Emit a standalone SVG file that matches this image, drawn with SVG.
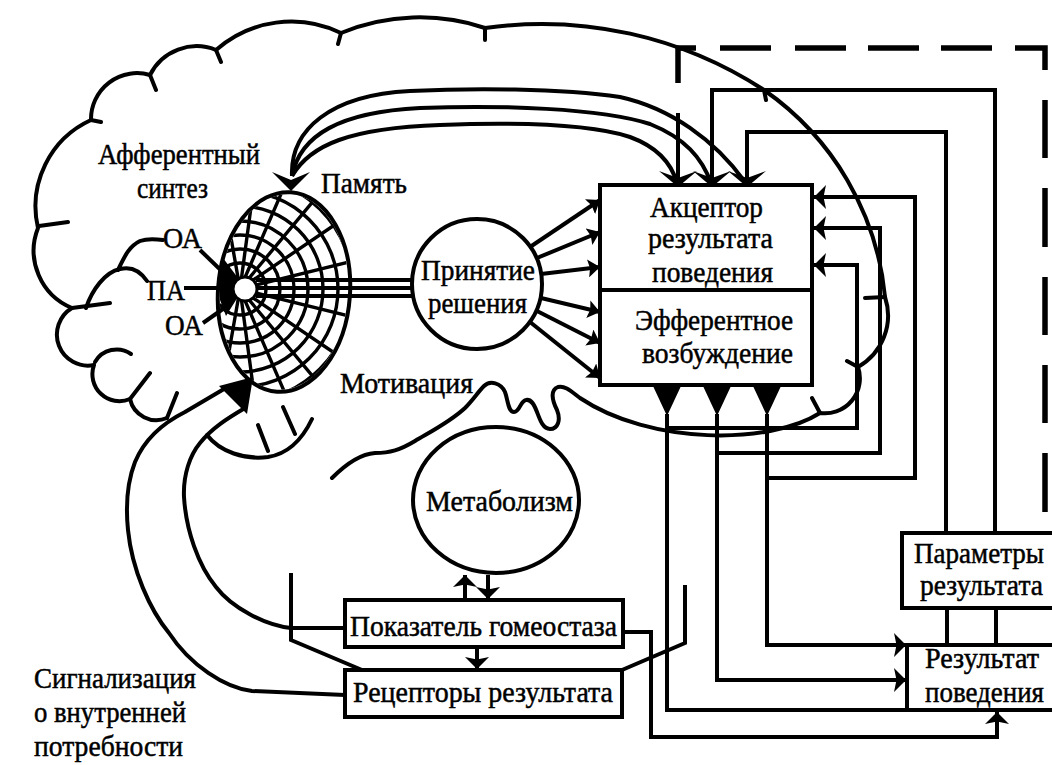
<svg xmlns="http://www.w3.org/2000/svg" width="1052" height="765" viewBox="0 0 1052 765">
<defs>
<style>
.t{font-family:'Liberation Serif',serif;font-size:29px;fill:#000;stroke:#000;stroke-width:0.5}
.ln{fill:none;stroke:#000;stroke-width:4;stroke-linecap:round;stroke-linejoin:round}
.cn{fill:none;stroke:#000;stroke-width:4;stroke-linejoin:miter;stroke-linecap:butt}
.dl{fill:none;stroke:#000;stroke-width:5.5}
.bx{fill:#fff;stroke:#000;stroke-width:4}
.op{fill:none;stroke:#000;stroke-width:4}
.hat{fill:none;stroke:#000;stroke-width:3.4}
.ah{fill:#000}
</style>
<marker id="a" viewBox="0 0 12 24" refX="12" refY="12" markerWidth="12" markerHeight="24" markerUnits="userSpaceOnUse" orient="auto"><path d="M12,12 L0,0 L2.5,12 L0,24 Z" fill="#000"/></marker>
<marker id="s" viewBox="0 0 12 18" refX="12" refY="9" markerWidth="12" markerHeight="18" markerUnits="userSpaceOnUse" orient="auto"><path d="M12,9 L0,0 L2,9 L0,18 Z" fill="#000"/></marker>
<marker id="m" viewBox="0 0 9 12" refX="9" refY="6" markerWidth="9" markerHeight="12" markerUnits="userSpaceOnUse" orient="auto"><path d="M9,6 L0,0 L0,12 Z" fill="#000"/></marker>
<clipPath id="ov"><ellipse cx="284" cy="292" rx="64" ry="98" transform="rotate(4 284 292)"/></clipPath>
</defs>
<rect width="1052" height="765" fill="#fff"/>

<g id="brain" class="ln">
<path d="M167,418 A27,27 0 0 1 130,399 A27,27 0 0 1 94,365 A31,31 0 0 1 72,308 A62,62 0 0 1 38,228 A95,95 0 0 1 91,120 A46,46 0 0 1 150,75 A52,52 0 0 1 216,50 A114,114 0 0 1 341,33 A206,206 0 0 1 485,28 A406,406 0 0 1 764,90 A285,285 0 0 1 885,297 A59,59 0 0 1 858,367 A35,35 0 0 1 820,413 C770,445 650,445 580,398 C572,392 565,385 558,387 C550,390 552,400 557,410 C561,420 558,429 550,429 C543,429 540,420 537,412 C534,404 531,399 526,400 C520,401 520,412 514,412 C508,412 508,400 505,392 C501,383 490,380 484,386 C478,392 473,400 465,408 C450,422 430,432 415,441 C400,450 390,453 375,453 C360,454 345,465 332,478"/>
<path d="M485,28 L485,40 M341,33 L338,44 M216,50 L221,62 M150,75 L156,90 M91,120 L101,122 M39,226 L68,222 M72,308 L110,303 M764,90 L766,100 M885,297 L865,298 M858,367 L847,361 M820,413 L812,398 M130,399 L150,373 M167,418 L177,393"/>
<path d="M95,362 A25,25 0 0 1 131,354"/>
<path d="M207,435 C220,452 245,460 268,457 C287,454 302,440 312,419 M258,425 L268,451 M283,407 L295,434"/>
<path d="M86,308 C92,290 105,272 120,269 C132,266 141,272 147,281 M118,270 C124,258 128,247 140,241 C148,238 156,239 163,240"/>
</g>

<g id="afferent-synthesis">
<g clip-path="url(#ov)" class="hat">
<circle cx="240" cy="289" r="26"/><circle cx="240" cy="289" r="40"/><circle cx="240" cy="289" r="54"/><circle cx="240" cy="289" r="68"/><circle cx="240" cy="289" r="83"/><circle cx="240" cy="289" r="98"/><circle cx="240" cy="289" r="113"/><circle cx="240" cy="289" r="128"/>
<path d="M240,289 L214,141 M240,289 L260,140 M240,289 L300,150 M240,289 L335,175 M240,289 L364,205 M240,289 L386,253 M240,289 L386,325 M240,289 L364,373 M240,289 L335,403 M240,289 L300,428 M240,289 L260,438 M240,289 L214,437"/>
</g>
<ellipse cx="284" cy="292" rx="66" ry="100" transform="rotate(4 284 292)" fill="none" stroke="#000" stroke-width="4"/>
<path d="M223,258 L238,278 L236,300 L226,316 L220,300 L219,275 Z" fill="#000"/>
<circle cx="245" cy="289" r="12" fill="#fff" stroke="#000" stroke-width="3"/>
</g>

<g id="connectors">
<path class="dl" d="M678,83 V48 H696 M720,48 H771 M795,48 H846 M868,48 H919 M941,48 H992 M1015,48 H1045 V70 M1045,100 V158 M1045,188 V247 M1045,277 V335 M1045,365 V423 M1045,453 V512"/>
<path class="cn" d="M678,113 V184 M712,184 V90 H995 V533 M747,184 V132 H946 V533 M947,608 V645 M996,608 V645"/>
<path class="cn" d="M292,176 C290,130 330,95 410,91 C470,88 560,88 620,97 C670,108 715,140 745,182"/>
<path class="cn" d="M292,176 C300,135 340,112 420,108 C500,105 600,108 650,124 C685,138 702,158 711,183"/>
<path class="cn" d="M292,176 C310,145 350,128 440,125 C520,122 590,124 630,137 C660,148 672,165 677,183"/>
<polygon class="ah" points="272,172 291,180 310,172 291,191"/>
<polygon class="ah" points="659,171 678,178 697,171 678,187"/>
<polygon class="ah" points="693,171 712,178 731,171 712,187"/>
<polygon class="ah" points="728,171 747,178 766,171 747,187"/>
<path class="cn" d="M256,280 H413 M256,288 H412 M256,296 H413"/>
<g class="cn" marker-end="url(#s)">
<path d="M530,247 L600,200"/>
<path d="M537,258 L600,232"/>
<path d="M541,274 L600,267"/>
<path d="M541,298 L600,312"/>
<path d="M537,311 L600,343"/>
<path d="M530,322 L600,378"/>
</g>
<polygon class="ah" points="653,386 681,386 667,416"/>
<polygon class="ah" points="703,386 731,386 717,416"/>
<polygon class="ah" points="753,386 781,386 767,416"/>
<path class="cn" d="M667,414 V710 H907"/>
<g class="cn" marker-end="url(#a)">
<path d="M717,414 V680 H906"/>
<path d="M767,414 V645 H906"/>
<path d="M667,428 H857 V265 H814"/>
<path d="M717,453 H880 V228 H814"/>
<path d="M767,478 H915 V197 H814"/>
<path d="M465,600 V575"/>
<path d="M488,575 V599"/>
<path d="M477,647 V669"/>
<path d="M623,632 H651 V737 H997 V712"/>
</g>
<path class="cn" d="M291,573 V640 L362,670 M622,670 L685,643 V585"/>
<path class="ln" d="M345,695 L252,691 C225,688 190,665 169,633 C150,610 132,570 128,530 C125,500 128,480 135,462 C145,438 165,422 185,412 L224,389"/>
<path class="ln" d="M345,628 L291,628 C265,625 232,608 216,587 C198,565 186,530 184,497 C183,475 190,455 200,443 C212,428 228,418 245,408"/>
<polygon class="ah" points="253,377 219,386 247,414"/>
<g class="cn" stroke-width="3" marker-end="url(#m)">
<path d="M200,250 L231,280"/>
<path d="M184,288 L234,288"/>
<path d="M203,323 L230,304"/>
</g>
</g>

<g id="decision"><circle cx="477" cy="284" r="65" class="bx"/></g>
<g id="acceptor"><rect x="600" y="185" width="212" height="200" class="bx"/><line x1="600" y1="290" x2="812" y2="290" stroke="#000" stroke-width="4"/></g>
<g id="metabolism"><ellipse cx="496" cy="500" rx="83" ry="73" class="bx"/></g>
<g id="homeostasis"><rect x="345" y="600" width="278" height="47" class="bx"/></g>
<g id="receptors"><rect x="345" y="670" width="277" height="47" class="bx"/></g>
<g id="parameters"><path class="op" d="M1052,533 H902 V608 H1052"/></g>
<g id="result"><path class="op" d="M1052,645 H907 V710 H1052"/></g>

<g id="labels">
<text class="t" x="98" y="164" textLength="162" lengthAdjust="spacingAndGlyphs">Афферентный</text>
<text class="t" x="137" y="198" textLength="71" lengthAdjust="spacingAndGlyphs">синтез</text>
<text class="t" x="321" y="193" textLength="86" lengthAdjust="spacingAndGlyphs">Память</text>
<text class="t" x="163" y="248" textLength="39" lengthAdjust="spacingAndGlyphs">ОА</text>
<text class="t" x="147" y="300" textLength="38" lengthAdjust="spacingAndGlyphs">ПА</text>
<text class="t" x="165" y="335" textLength="38" lengthAdjust="spacingAndGlyphs">ОА</text>
<text class="t" x="421" y="280" textLength="114" lengthAdjust="spacingAndGlyphs">Принятие</text>
<text class="t" x="428" y="313" textLength="99" lengthAdjust="spacingAndGlyphs">решения</text>
<text class="t" x="340" y="393" textLength="133" lengthAdjust="spacingAndGlyphs">Мотивация</text>
<text class="t" x="650" y="217" textLength="113" lengthAdjust="spacingAndGlyphs">Акцептор</text>
<text class="t" x="648" y="248" textLength="125" lengthAdjust="spacingAndGlyphs">результата</text>
<text class="t" x="652" y="282" textLength="121" lengthAdjust="spacingAndGlyphs">поведения</text>
<text class="t" x="635" y="330" textLength="158" lengthAdjust="spacingAndGlyphs">Эфферентное</text>
<text class="t" x="642" y="363" textLength="151" lengthAdjust="spacingAndGlyphs">возбуждение</text>
<text class="t" x="426" y="511" textLength="147" lengthAdjust="spacingAndGlyphs">Метаболизм</text>
<text class="t" x="350" y="636" textLength="267" lengthAdjust="spacingAndGlyphs">Показатель гомеостаза</text>
<text class="t" x="353" y="702" textLength="260" lengthAdjust="spacingAndGlyphs">Рецепторы результата</text>
<text class="t" x="914" y="563" textLength="130" lengthAdjust="spacingAndGlyphs">Параметры</text>
<text class="t" x="920" y="595" textLength="123" lengthAdjust="spacingAndGlyphs">результата</text>
<text class="t" x="925" y="668" textLength="114" lengthAdjust="spacingAndGlyphs">Результат</text>
<text class="t" x="925" y="702" textLength="119" lengthAdjust="spacingAndGlyphs">поведения</text>
<text class="t" x="34" y="688" textLength="162" lengthAdjust="spacingAndGlyphs">Сигнализация</text>
<text class="t" x="34" y="722" textLength="152" lengthAdjust="spacingAndGlyphs">о внутренней</text>
<text class="t" x="34" y="756" textLength="149" lengthAdjust="spacingAndGlyphs">потребности</text>
</g>
</svg>
